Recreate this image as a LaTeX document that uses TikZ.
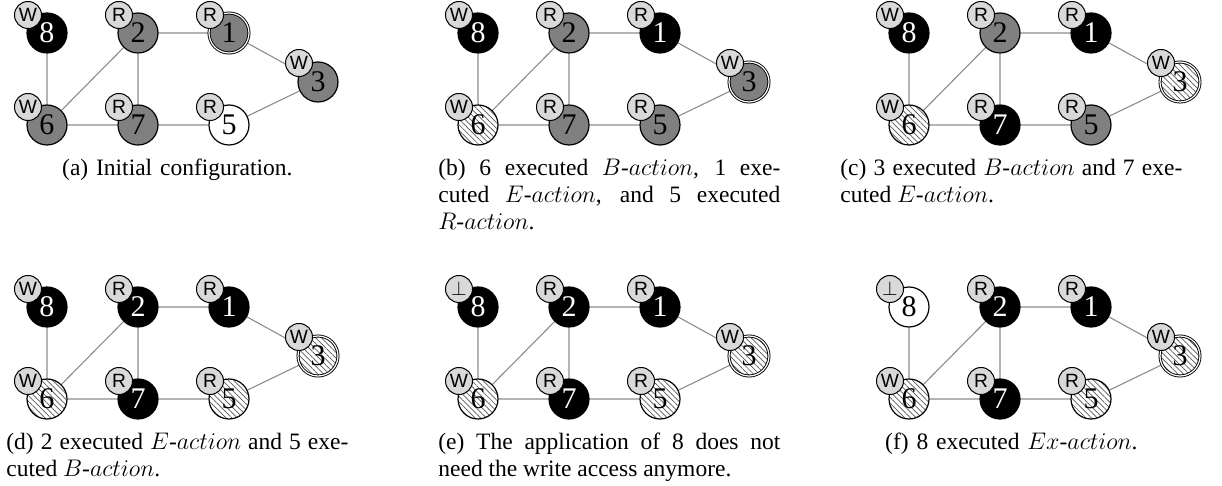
\documentclass[tikz,border=0pt]{standalone}
\usepackage{fontspec}
\setmainfont{Liberation Serif}
\setsansfont{Liberation Sans}
\usetikzlibrary{patterns.meta,backgrounds}
\tikzset{
  vtx/.style={circle, draw=black, line width=0.6pt, minimum size=20pt, inner sep=0pt,
              font=\fontsize{15}{15}\selectfont},
  gry/.style={fill=black!50},
  blk/.style={fill=black, text=white},
  wht/.style={fill=white},
  hat/.style={preaction={fill=white}, pattern={Lines[angle=-45,distance=2pt,line width=0.35pt]}, pattern color=black!65},
  dbl/.style={double=white, double distance=0.6pt, line width=0.45pt},
  lab/.style={circle, draw=black, line width=0.5pt, fill=black!15, minimum size=13.5pt, inner sep=0pt,
              font=\fontsize{9.6}{10}\sffamily},
  lnk/.style={draw=black!45, line width=0.55pt},
  captxt/.style={anchor=base west, inner sep=0pt, text width=171pt,
              font=\fontsize{11.75}{13.5}\selectfont},
}
\newcommand\panelbody[2]{%
  \node[vtx,n8] (#1-8) at (47,33) {8};
  \node[vtx,n2] (#1-2) at (138,33) {2};
  \node[vtx,n1] (#1-1) at (229,33) {1};
  \node[vtx,n3] (#1-3) at (318,82) {3};
  \node[vtx,n6] (#1-6) at (47,125) {6};
  \node[vtx,n7] (#1-7) at (138,125) {7};
  \node[vtx,n5] (#1-5) at (229,125) {5};
  \begin{scope}[on background layer]
    \draw[lnk] (#1-8)--(#1-6) (#1-6)--(#1-2) (#1-2)--(#1-7) (#1-2)--(#1-1)
                (#1-6)--(#1-7) (#1-7)--(#1-5) (#1-5)--(#1-3) (#1-1)--(#1-3);
  \end{scope}
  \node[lab] (#1-l8) at (28,15) {#2};
  \node[lab] (#1-l2) at (119,15) {R};
  \node[lab] (#1-l1) at (210,15) {R};
  \node[lab] (#1-l3) at (299,63) {W};
  \node[lab] (#1-l6) at (28,107) {W};
  \node[lab] (#1-l7) at (119,107) {R};
  \node[lab] (#1-l5) at (210,107) {R};
}
\begin{document}
\begin{tikzpicture}[x=0.5pt,y=-0.5pt]
\useasboundingbox (0,0) rectangle (1222,486);
% (a)
\begin{scope}[n8/.style={blk}, n2/.style={gry}, n1/.style={gry,dbl}, n3/.style={gry},
              n6/.style={gry}, n7/.style={gry}, n5/.style={wht}]
  \panelbody{a}{W}
\end{scope}
% (b)
\begin{scope}[shift={(431,0)}, n8/.style={blk}, n2/.style={gry}, n1/.style={blk}, n3/.style={gry,dbl},
              n6/.style={hat}, n7/.style={gry}, n5/.style={gry}]
  \panelbody{b}{W}
\end{scope}
% (c)
\begin{scope}[shift={(862,0)}, n8/.style={blk}, n2/.style={gry}, n1/.style={blk}, n3/.style={hat,dbl},
              n6/.style={hat}, n7/.style={blk}, n5/.style={gry}]
  \panelbody{c}{W}
\end{scope}
% (d)
\begin{scope}[shift={(0,274)}, n8/.style={blk}, n2/.style={blk}, n1/.style={blk}, n3/.style={hat,dbl},
              n6/.style={hat}, n7/.style={blk}, n5/.style={hat}]
  \panelbody{d}{W}
\end{scope}
% (e)
\begin{scope}[shift={(431,274)}, n8/.style={blk}, n2/.style={blk}, n1/.style={blk}, n3/.style={hat,dbl},
              n6/.style={hat}, n7/.style={blk}, n5/.style={hat}]
  \panelbody{e}{$\perp$}
\end{scope}
% (f)
\begin{scope}[shift={(862,274)}, n8/.style={wht}, n2/.style={blk}, n1/.style={blk}, n3/.style={hat,dbl},
              n6/.style={hat}, n7/.style={blk}, n5/.style={hat}]
  \panelbody{f}{$\perp$}
\end{scope}
% captions
\node[captxt, align=center] (capa) at (6,176) {(a) Initial configuration.};
\node[captxt, align=justify] (capb) at (438,176) {(b) 6 executed $B$-$action$, 1 exe-\linebreak cuted $E$-$action$, and 5 executed\linebreak $R$-$action$.};
\node[captxt, align=justify] (capc) at (840,176) {(c) 3 executed $B$-$action$ and 7 exe-\linebreak cuted $E$-$action$.};
\node[captxt, align=justify] (capd) at (6,450) {(d) 2 executed $E$-$action$ and 5 exe-\linebreak cuted $B$-$action$.};
\node[captxt, align=justify] (cape) at (438,450) {(e) The application of 8 does not\linebreak need the write access anymore.};
\node[captxt, align=center] (capf) at (840,450) {(f) 8 executed $Ex$-$action$.};
\end{tikzpicture}
\end{document}
